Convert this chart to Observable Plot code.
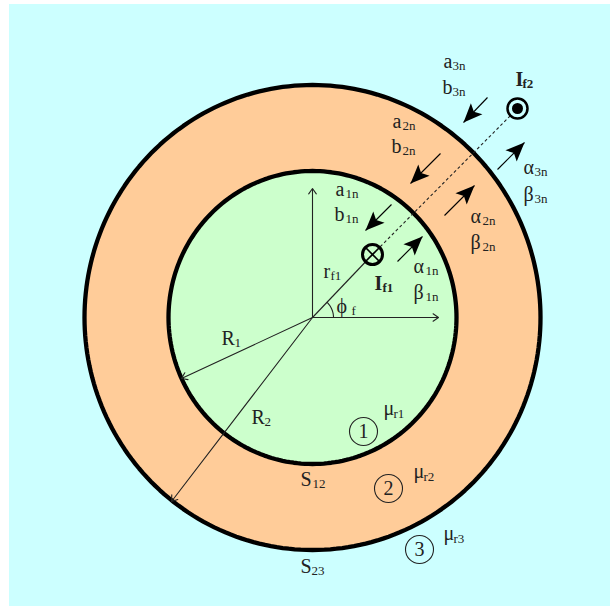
<!DOCTYPE html>
<html>
<head>
<meta charset="utf-8">
<style>html,body{margin:0;padding:0;background:#fff}svg{display:block}</style>
<script src="https://cdn.jsdelivr.net/npm/d3@7"></script>
<script src="https://cdn.jsdelivr.net/npm/@observablehq/plot@0.6"></script>
</head>
<body>
<div id="chart"></div>
<script>
const centre = {x: 312, y: 317};
const panel = [{x1: 9, x2: 610, y1: 4, y2: 606}];
const regions = [
  {name: "outer", rx: 228, ry: 232.5, fill: "#FFCC99"},
  {name: "inner", rx: 144, ry: 146.5, fill: "#CCFFCC"}
];
const axisArrows = [
  {x1: 312, y1: 317, x2: 312, y2: 188},
  {x1: 312, y1: 317, x2: 438, y2: 317},
  {x1: 312, y1: 317, x2: 181, y2: 378},
  {x1: 312, y1: 317, x2: 171, y2: 501}
];
const forceArrows = [
  {x1: 487, y1: 97, x2: 463, y2: 122},
  {x1: 440, y1: 153, x2: 410, y2: 183},
  {x1: 391, y1: 204, x2: 365, y2: 230},
  {x1: 497, y1: 169, x2: 524, y2: 142},
  {x1: 444, y1: 215, x2: 474, y2: 185},
  {x1: 397, y1: 261, x2: 422, y2: 236}
];
const sourceIn = {x: 372, y: 254};
const sourceOut = {x: 517, y: 108};
const bigLabels = ["a","b","a","b","a","b","α","β","α","β","α","β","r","ϕ","R","R","S","S","μ","μ","μ"];
const bigX = [443,442,392,391,335,334,523,523,470,470,413,413,323,336,221,251,300,300,383,413,443];
const bigY = [67,93,127,152,195,220,173,200,222,248,272,298,277,312,344,423,485,572,414,477,539];
const subLabels = ["3n","3n","2n","2n","1n","1n","3n","3n","2n","2n","1n","1n","f1","f","1","2","12","23","r1","r2","r3"];
const subX = [452,452,402,402,345,345,534,534,482,482,425,425,330,351,234,264,312,311,393,423,453];
const subY = [69,95,129,154,197,222,175,202,224,250,274,300,279,314,346,425,487,574,417,480,542];
const boldLabels = ["I","I"];
const boldX = [374,515];
const boldY = [289,85];
const boldSubs = ["f1","f2"];
const boldSubX = [382,522];
const boldSubY = [291,87];
const regionIds = ["1","2","3"];
const regionX = [363,388,419];
const regionY = [431,488,549];

const serif = "Liberation Serif, serif";
const ink = "#222";
const angles = d3.range(0, 360, 1.5);
const ringPts = r => angles.map(a => ({
  x: centre.x + r.rx * Math.cos(a * Math.PI / 180),
  y: centre.y + r.ry * Math.sin(a * Math.PI / 180)
}));
const arcPts = d3.range(0, 48, 3).map(a => ({
  x: centre.x + 21 * Math.cos(a * Math.PI / 180),
  y: centre.y - 21 * Math.sin(a * Math.PI / 180)
}));
const head = (a, i) => {
  const dx = a.x2 - a.x1, dy = a.y2 - a.y1, L = Math.hypot(dx, dy);
  const ux = dx / L, uy = dy / L;
  const back = 19, half = 8, notch = 15;
  return [
    {i, x: a.x2, y: a.y2},
    {i, x: a.x2 - back * ux - half * uy, y: a.y2 - back * uy + half * ux},
    {i, x: a.x2 - notch * ux, y: a.y2 - notch * uy},
    {i, x: a.x2 - back * ux + half * uy, y: a.y2 - back * uy - half * ux}
  ];
};
const texts = (labels, xs, ys, size, weight) => Plot.text(labels.map((t, i) => i), {
  x: i => xs[i], y: i => ys[i], text: i => labels[i],
  textAnchor: "start", lineAnchor: "bottom",
  fontFamily: serif, fontSize: size, fontWeight: weight, fill: ink
});
const k = 7;
const crossPts = [
  {x1: sourceIn.x - k, y1: sourceIn.y - k, x2: sourceIn.x + k, y2: sourceIn.y + k},
  {x1: sourceIn.x - k, y1: sourceIn.y + k, x2: sourceIn.x + k, y2: sourceIn.y - k}
];

const plot = Plot.plot({
  width: 610, height: 606,
  marginTop: 0, marginRight: 0, marginBottom: 0, marginLeft: 0,
  x: {domain: [0, 610], axis: null},
  y: {domain: [606, 0], axis: null},
  style: {background: "transparent"},
  marks: [
    Plot.rect(panel, {x1: "x1", x2: "x2", y1: "y1", y2: "y2", fill: "#CCFFFF"}),
    ...regions.map(r => Plot.line(ringPts(r), {
      x: "x", y: "y", curve: "linear-closed", fill: r.fill, stroke: "#000", strokeWidth: 4.3
    })),
    Plot.link([{x1: centre.x, y1: centre.y, x2: sourceIn.x, y2: sourceIn.y}], {
      x1: "x1", y1: "y1", x2: "x2", y2: "y2", stroke: ink, strokeWidth: 1.1
    }),
    Plot.link([{x1: sourceIn.x, y1: sourceIn.y, x2: sourceOut.x, y2: sourceOut.y}], {
      x1: "x1", y1: "y1", x2: "x2", y2: "y2", stroke: ink, strokeWidth: 1.1, strokeDasharray: "3,2.5"
    }),
    Plot.arrow(axisArrows, {
      x1: "x1", y1: "y1", x2: "x2", y2: "y2", stroke: ink, strokeWidth: 1.1, headLength: 9, headAngle: 70
    }),
    Plot.line(arcPts, {x: "x", y: "y", stroke: ink, strokeWidth: 1.1}),
    Plot.link(forceArrows, {x1: "x1", y1: "y1", x2: "x2", y2: "y2", stroke: "#000", strokeWidth: 1.1}),
    Plot.line(forceArrows.flatMap(head), {
      x: "x", y: "y", z: "i", curve: "linear-closed", fill: "#000", stroke: "none"
    }),
    Plot.dot([sourceIn], {x: "x", y: "y", r: 10, fill: "#CCFFCC", stroke: "#000", strokeWidth: 3}),
    Plot.link(crossPts, {x1: "x1", y1: "y1", x2: "x2", y2: "y2", stroke: "#000", strokeWidth: 1.7}),
    Plot.dot([sourceOut], {x: "x", y: "y", r: 10, fill: "#CCFFFF", stroke: "#000", strokeWidth: 2.5}),
    Plot.dot([sourceOut], {x: "x", y: "y", r: 5.5, fill: "#000", stroke: "none"}),
    Plot.dot(regionIds.map((t, i) => i), {
      x: i => regionX[i], y: i => regionY[i], r: 14, fill: "none", stroke: ink, strokeWidth: 1.1
    }),
    Plot.text(regionIds.map((t, i) => i), {
      x: i => regionX[i], y: i => regionY[i], text: i => regionIds[i],
      fontFamily: serif, fontSize: 20, fill: ink
    }),
    texts(bigLabels, bigX, bigY, 20, "normal"),
    texts(subLabels, subX, subY, 13, "normal"),
    texts(boldLabels, boldX, boldY, 20, "bold"),
    texts(boldSubs, boldSubX, boldSubY, 13, "bold")
  ]
});
document.getElementById("chart").appendChild(plot);
</script>
</body>
</html>
